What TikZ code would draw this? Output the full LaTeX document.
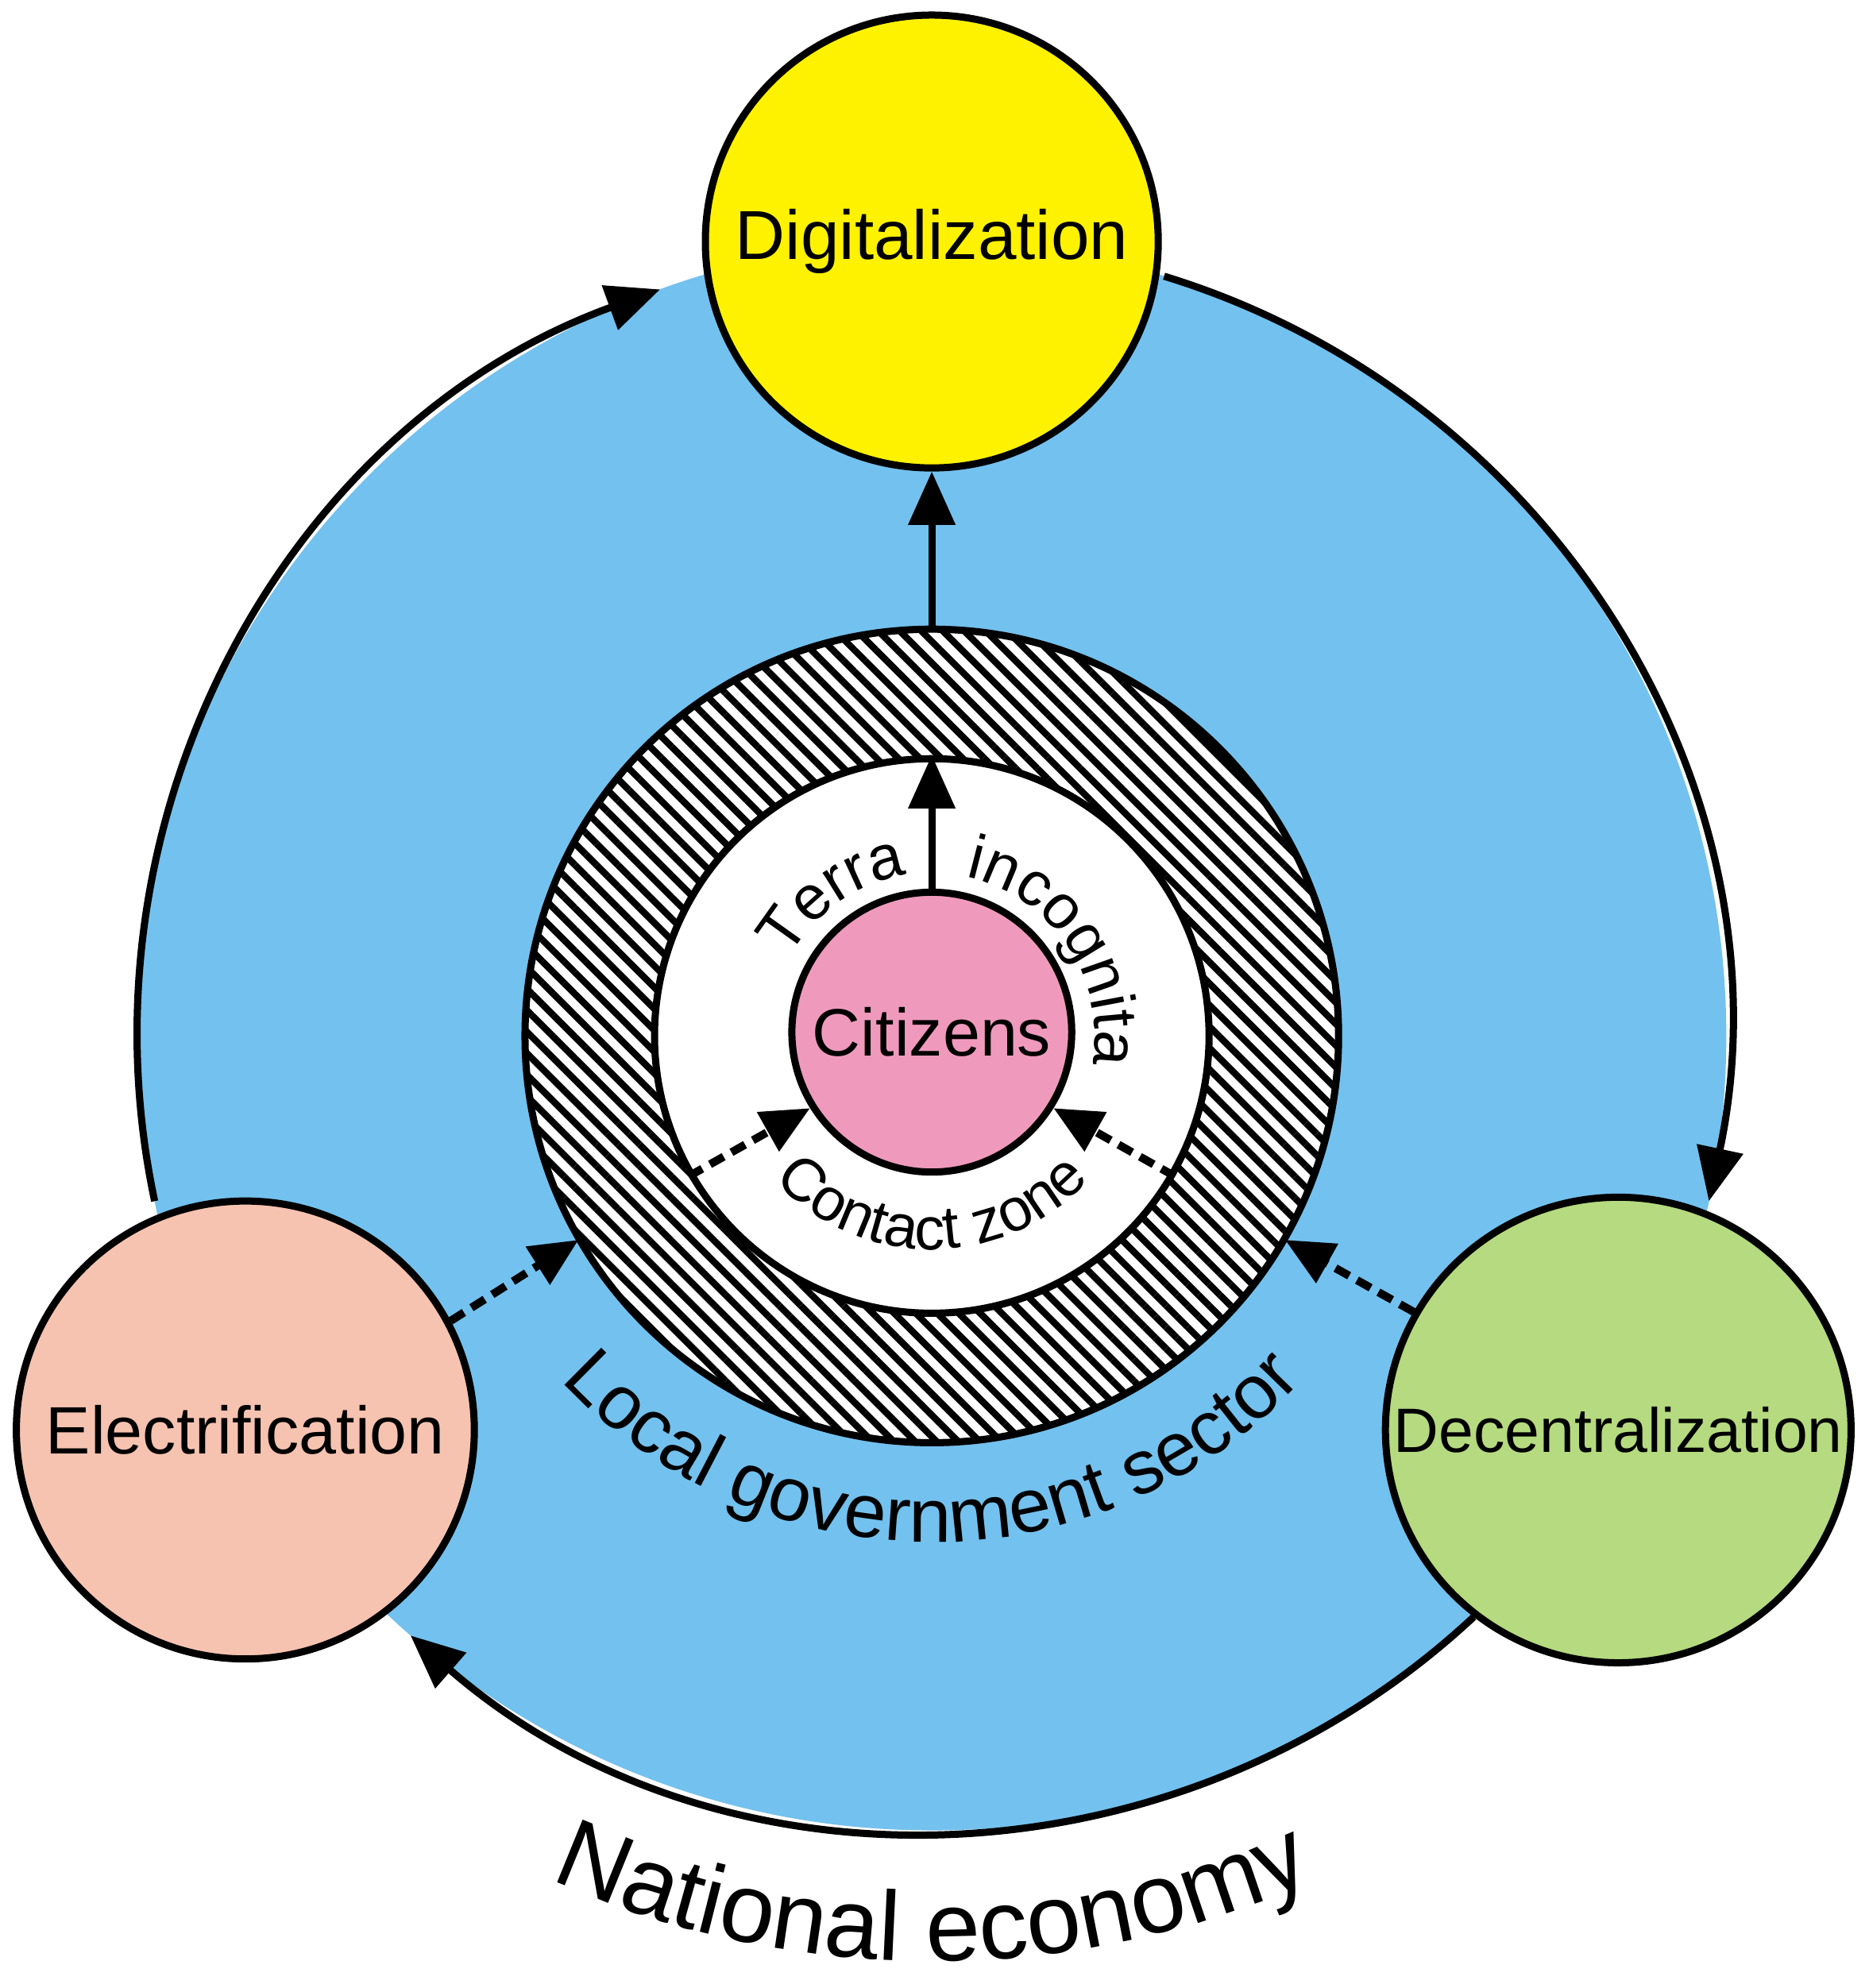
\documentclass[tikz,border=0pt]{standalone}
\usepackage{fontspec}
\setmainfont{Liberation Sans}
\usetikzlibrary{arrows.meta,patterns.meta,decorations.text}
\definecolor{blue1}{RGB}{115,193,238}
\definecolor{yel}{RGB}{255,242,0}
\definecolor{pinkc}{RGB}{239,154,189}
\definecolor{salmon}{RGB}{246,195,177}
\definecolor{greenc}{RGB}{181,218,127}
\begin{document}
\begin{tikzpicture}[x=0.01cm,y=0.01cm,
  circ/.style={circle,draw=black,line width=1.6pt,minimum size=#1*0.02cm,inner sep=0pt},
  bigarr/.style={line width=1.6pt,-{Triangle[length=0.42cm,width=0.36cm]}},
  dasharr/.style={line width=1.8pt,dash pattern=on 3.5pt off 2pt,-{Triangle[length=0.38cm,width=0.34cm]}},
  arctext/.style={decorate,decoration={text along path,text align=center,text={#1}}}]
\useasboundingbox (0,0) rectangle (1470,-1564);
\coordinate (C) at (733,-815);
\fill[blue1] (C) circle (625);
% big arcs
\draw[bigarr] (C) ++(192:625) arc[start angle=192,end angle=110,radius=625];
\draw[bigarr] (C) ++(73:625) arc[start angle=73,end angle=-12,radius=625];
\draw[bigarr] (C) ++(-47:625) arc[start angle=-47,end angle=-131,radius=625];
% nodes
\node[circ=178,fill=yel,font=\fontsize{15.5}{17}\selectfont] (dig) at (733,-190) {Digitalization};
\node[circ=180,fill=salmon,font=\fontsize{15}{17}\selectfont] (ele) at (193,-1125) {Electrification};
\node[circ=183,fill=greenc,font=\fontsize{14}{16}\selectfont] (dec) at (1273,-1125) {Decentralization};
% hatched ring
\fill[white] (C) circle (320);
\fill[pattern={Lines[angle=-45,distance=3.4pt,line width=1.5pt]}] (C) circle (320);
\draw[line width=1.6pt] (C) circle (320);
\node[circle,fill=white,draw=black,line width=1.6pt,minimum size=4.36cm,inner sep=0pt] (inner) at (C) {};
\node[circ=110,fill=pinkc,font=\fontsize{15}{17}\selectfont] (cit) at (733,-812) {Citizens};
\node[circle,minimum size=6.4cm,inner sep=0pt] (ring) at (C) {};
% arrows
\draw[bigarr] (ring.north) -- (dig.south);
\draw[bigarr] (cit.north) -- (inner.north);
\draw[dasharr] (inner.210) -- (cit.212);
\draw[dasharr] (inner.-30) -- (cit.-32);
\draw[dasharr] (ele.28) -- (ring.210);
\draw[dasharr] (dec.150) -- (ring.-30);
% arc texts
\path[arctext={|\fontsize{22}{24}\selectfont|National economy}] (C) ++(225:728) arc[start angle=225,end angle=315,radius=728];
\path[arctext={|\fontsize{17}{19}\selectfont|Local government sector}] (C) ++(210:398) arc[start angle=210,end angle=330,radius=398];
\path[arctext={|\fontsize{13.5}{15}\selectfont|Contact zone}] (C) ++(215:168) arc[start angle=215,end angle=325,radius=168];
\path[arctext={|\fontsize{14}{16}\selectfont|Terra}] (C) ++(150:128) arc[start angle=150,end angle=100,radius=128];
\path[arctext={|\fontsize{14}{16}\selectfont|incognita}] (C) ++(78:128) arc[start angle=78,end angle=-10,radius=128];
\end{tikzpicture}
\end{document}
